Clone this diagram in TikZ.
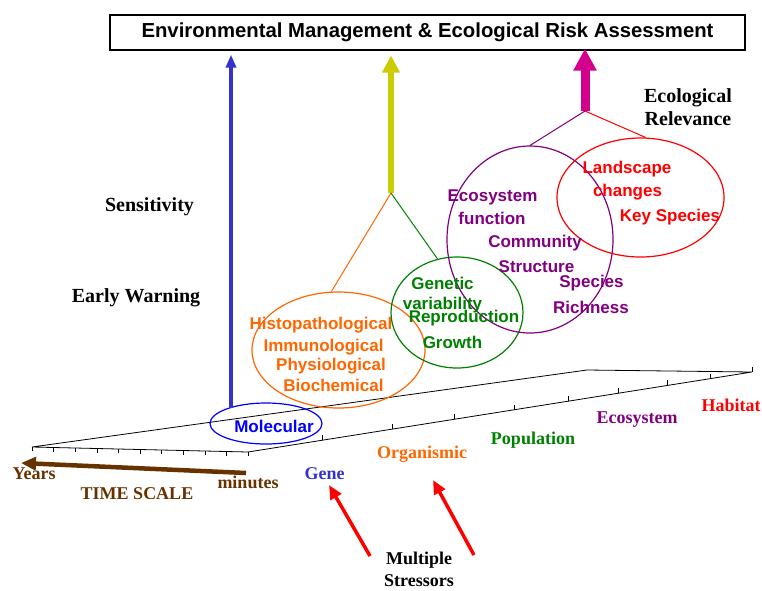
\documentclass[tikz,border=0pt]{standalone}
\usepackage{fontspec}
\setmainfont{Liberation Serif}
\setsansfont{Liberation Sans}
\usetikzlibrary{arrows.meta,shapes.geometric}
\definecolor{molblue}{RGB}{51,51,204}
\definecolor{pureblue}{RGB}{0,0,255}
\definecolor{yel}{RGB}{204,204,0}
\definecolor{mag}{RGB}{210,0,140}
\definecolor{orgorange}{RGB}{255,102,0}
\definecolor{popgreen}{RGB}{0,128,0}
\definecolor{ecopurple}{RGB}{128,0,128}
\definecolor{habred}{RGB}{255,0,0}
\definecolor{timebrown}{RGB}{102,51,0}

\begin{document}
\begin{tikzpicture}[x=1pt,y=-1pt,
  tbig/.style={font=\fontsize{20}{23}\selectfont\bfseries,align=center},
  tlab/.style={font=\fontsize{18}{22}\selectfont\bfseries,align=center},
  slab/.style={font=\sffamily\fontsize{17}{20}\selectfont\bfseries,inner sep=0pt},
  oval/.style={draw,ellipse,line width=1.2pt,inner sep=0pt}]
	\useasboundingbox (0,0) rectangle (762,590);
	% title box
	\node[draw,line width=1.2pt,minimum width=635pt,minimum height=35pt,
	  font=\sffamily\fontsize{20.3}{23}\selectfont\bfseries] (ema) at (427.5,32.5)
	  {Environmental Management \& Ecological Risk Assessment};
	% base plane
	\draw[line width=0.8pt] (32,447) -- (587,370) -- (752,372) -- (248,452) -- cycle;
	\foreach \t in {0,...,10}
		\draw[line width=0.6pt] ({32+21.6*\t},{447+0.5*\t}) -- ++(0,4);
	\foreach \x in {322,392,454,514,568,618,667,710,752}
		\draw[line width=0.6pt] (\x,{452-0.15873*(\x-248)}) -- ++(0,-5);
	% ovals
	\node[oval,draw=pureblue,minimum width=112pt,minimum height=41pt] (mol) at (266,423.5) {};
	\node[oval,draw=orgorange,minimum width=173pt,minimum height=116pt] (org) at (338.5,350) {};
	\node[oval,draw=popgreen,minimum width=132pt,minimum height=111pt] (pop) at (457,312.5) {};
	\node[oval,draw=ecopurple,minimum width=166pt,minimum height=187pt] (eco) at (530,239.5) {};
	\node[oval,draw=habred,minimum width=167pt,minimum height=119pt] (hab) at (640.5,197.5) {};
	% arrows to the box
	\coordinate (bbase) at (231,408);
	\coordinate (ybase) at (391,193);
	\coordinate (mbase) at (585,111);
	\draw[molblue,line width=3.5pt,-{Triangle[length=13pt,width=10pt]},shorten >=4pt] (bbase) -- (bbase |- ema.south);
	\draw[yel,line width=6.5pt,-{Triangle[length=17pt,width=17pt]},shorten >=5pt] (ybase) -- (ybase |- ema.south);
	\draw[mag,line width=9pt,-{Triangle[length=22pt,width=22pt]},shorten >=-2pt] (mbase) -- (mbase |- ema.south);
	\draw[orgorange,line width=1pt] (ybase) -- (org.97);
	\draw[popgreen,line width=1pt] (ybase) -- (pop.110);
	\draw[ecopurple,line width=1pt] (mbase) -- (eco.north);
	\draw[habred,line width=1pt] (mbase) -- (hab.85);
	% oval texts
	\node[slab,pureblue] (tmol) at (274,426) {Molecular};
	\node[slab,orgorange] (t1) at (321,325) {Histopathological};
	\node[slab,orgorange] (t2) at (323.5,347) {Immunological};
	\node[slab,orgorange] (t3) at (331,366) {Physiological};
	\node[slab,orgorange] (t4) at (333.5,385) {Biochemical};
	\node[slab,popgreen] (t5) at (442.5,283) {Genetic};
	\node[slab,popgreen] (t6) at (442.5,305) {variability};
	\node[slab,popgreen] (t7) at (464,318) {Reproduction};
	\node[slab,popgreen] (t8) at (452.5,342) {Growth};
	\node[slab,ecopurple] (t9) at (492.5,197) {Ecosystem};
	\node[slab,ecopurple] (t10) at (492,218) {function};
	\node[slab,ecopurple] (t11) at (535,243) {Community};
	\node[slab,ecopurple] (t12) at (536.5,267) {Structure};
	\node[slab,ecopurple] (t13) at (591.5,283) {Species};
	\node[slab,ecopurple] (t14) at (591,307) {Richness};
	\node[slab,habred] (t15) at (627,169) {Landscape};
	\node[slab,habred] (t16) at (627.5,192) {changes};
	\node[slab,habred] (t17) at (670,217) {Key Species};
	% side texts
	\node[tbig] (sens) at (149.5,207) {Sensitivity};
	\node[tbig] (warn) at (136,298) {Early Warning};
	\node[tbig] (rel) at (688,107.5) {Ecological\\Relevance};
	% level labels
	\node[tlab,molblue] (gene) at (324.5,474) {Gene};
	\node[tlab,orgorange] (orgl) at (422,454) {Organismic};
	\node[tlab,popgreen] (popl) at (533,440) {Population};
	\node[tlab,ecopurple] (ecol) at (637,420) {Ecosystem};
	\node[tlab,habred] (habl) at (731,405) {Habitat};
	% time scale
	\node[tlab,timebrown] (yrs) at (34,474) {Years};
	\node[tlab,timebrown] (mins) at (248,482) {minutes};
	\node[tlab,timebrown] (tscl) at (137,494) {TIME SCALE};
	\coordinate (tail) at (246,473);
	\coordinate (head) at (21,463);
	\draw[timebrown,line width=4.5pt,-{Triangle[length=15pt,width=13pt]}] (tail) -- (head);
	% stressors
	\node[tlab] (strs) at (419,569) {Multiple\\Stressors};
	\coordinate (s1) at (370,556);
	\coordinate (g1) at (329,485);
	\coordinate (s2) at (474,555);
	\coordinate (g2) at (433,480);
	\draw[habred,line width=3.5pt,-{Triangle[length=14pt,width=12pt]}] (s1) -- (g1);
	\draw[habred,line width=3.5pt,-{Triangle[length=14pt,width=12pt]}] (s2) -- (g2);
\end{tikzpicture}
\end{document}
